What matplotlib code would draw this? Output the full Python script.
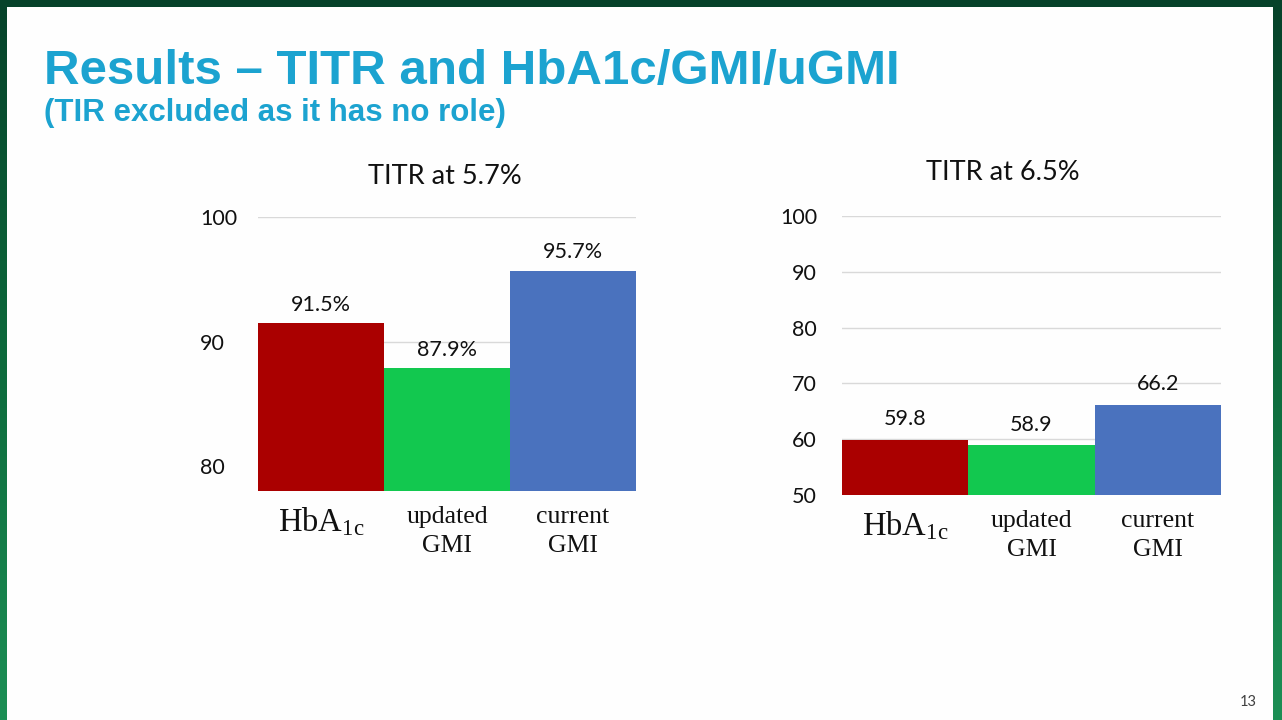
import numpy as np
import matplotlib
matplotlib.use("Agg")
import matplotlib.pyplot as plt
from matplotlib.patches import Rectangle

plt.rcParams['mathtext.fontset'] = 'custom'
plt.rcParams['mathtext.rm'] = 'Liberation Serif'
plt.rcParams['mathtext.it'] = 'Liberation Serif'

# Data
categories = ['HbA1c', 'updated\nGMI', 'current\nGMI']
titr_57 = [91.5, 87.9, 95.7]
titr_65 = [59.8, 58.9, 66.2]
labels_57 = ['91.5%', '87.9%', '95.7%']
labels_65 = ['59.8', '58.9', '66.2']
ticks_57 = [80, 90, 100]
ticks_65 = [50, 60, 70, 80, 90, 100]

bar_colors = ['#AA0000', '#12C84F', '#4A72BE']
title_blue = '#1CA3D0'
W, H = 1282, 720

fig = plt.figure(figsize=(W / 100, H / 100), dpi=100)

# slide background: green frame + white page
bg = fig.add_axes([0, 0, 1, 1], zorder=-10)
grad = np.linspace(0, 1, 256).reshape(-1, 1)
cmap = matplotlib.colors.LinearSegmentedColormap.from_list('frame', ['#06422A', '#0D6A3C', '#1C8F55'])
bg.imshow(grad, aspect='auto', cmap=cmap, extent=[0, 1, 0, 1], origin='upper')
bg.add_patch(Rectangle((7 / W, 0), (1273 - 7) / W, (713) / H,
                       facecolor='#FEFEFE', edgecolor='none'))
bg.set_xlim(0, 1)
bg.set_ylim(0, 1)
bg.axis('off')

fig.text(44 / W, 1 - 84 / H, 'Results \u2013 TITR and HbA1c/GMI/uGMI',
         family='Liberation Sans', weight='bold', fontsize=35.5, color=title_blue,
         ha='left', va='baseline')
fig.text(44 / W, 1 - 121 / H, '(TIR excluded as it has no role)',
         family='Liberation Sans', weight='bold', fontsize=22.5, color=title_blue,
         ha='left', va='baseline')
fig.text(1257 / W, 1 - 702 / H, '13', family='Lato', fontsize=10.5,
         color='#404040', ha='right', va='center')


def draw_chart(rect, values, texts, ticks, ylim, title, title_x, title_y,
               label_pad, label_ha, text_off):
    ax = fig.add_axes(rect)
    x = np.arange(len(values))
    ax.bar(x, [v - ylim[0] for v in values], bottom=ylim[0], width=1.0,
           color=bar_colors, zorder=2)
    ax.set_xlim(-0.5, len(values) - 0.5)
    ax.set_ylim(*ylim)
    ax.set_yticks(ticks)
    ax.set_yticklabels([str(t) for t in ticks], family='Lato', fontsize=15.5,
                       color='#111111', ha=label_ha)
    ax.tick_params(axis='y', length=0, pad=label_pad)
    ax.set_xticks([])
    ax.yaxis.grid(True, color='#D9D9D9', linewidth=1.0, zorder=0)
    ax.set_axisbelow(True)
    for s in ax.spines.values():
        s.set_visible(False)
    ax.patch.set_alpha(0)

    for xi, v, t in zip(x, values, texts):
        ax.annotate(t, (xi, v), xytext=(0, text_off), textcoords='offset points',
                    ha='center', va='center', family='Lato', fontsize=15.5,
                    color='#111111')

    for xi, c in zip(x, categories):
        if c == 'HbA1c':
            ax.annotate(r'HbA$_{\mathrm{1c}}$', (xi, ylim[0]), xytext=(0, -22),
                        textcoords='offset points', ha='center', va='center',
                        family='Liberation Serif', fontsize=23.5, color='#111111')
        else:
            ax.annotate(c, (xi, ylim[0]), xytext=(0, -10.5), textcoords='offset points',
                        ha='center', va='top', family='Liberation Serif',
                        fontsize=18.5, color='#111111', linespacing=1.45)

    fig.text(title_x / W, 1 - title_y / H, title, family='Lato',
             fontsize=19.5, color='#111111', ha='center', va='center')
    return ax


draw_chart([258 / W, 1 - 491 / H, 378 / W, 274 / H], titr_57, labels_57, ticks_57,
           (78, 100), 'TITR at 5.7%', 445, 177, 41.8, 'left', 13)
draw_chart([842 / W, 1 - 495 / H, 379 / W, 279 / H], titr_65, labels_65, ticks_65,
           (50, 100), 'TITR at 6.5%', 1003, 173, 18, 'right', 15)

fig.savefig('out.png', dpi=100)
